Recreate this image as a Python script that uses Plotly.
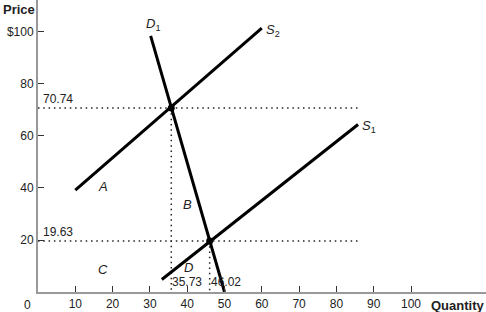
import plotly.graph_objects as go

# Data
s2_q = [10, 60]
s2_p = [39.2, 101.5]
s1_q = [33.2, 85.8]
s1_p = [4.8, 64.4]
d1_q = [30.2, 35.73, 46.02, 50.0]
d1_p = [98.5, 70.74, 19.63, 0.0]
eq_q = [35.73, 46.02]
eq_p = [70.74, 19.63]
x_ticks = [10, 20, 30, 40, 50, 60, 70, 80, 90, 100]
y_ticks = [20, 40, 60, 80, 100]
y_tick_text = ["20", "40", "60", "80", "$100"]
dotted_end = 86.3
region_labels = ["A", "B", "C", "D"]
region_q = [17.5, 40, 17.5, 40.3]
region_p = [40.5, 33.5, 8.5, 9.6]

FONT = "Liberation Sans, Arial, sans-serif"
fig = go.Figure()

DOT = dict(color="#222", width=1.5, dash="1.5px,3.8px")
# dotted guide lines
for p in eq_p:
    fig.add_trace(go.Scatter(x=[0, dotted_end], y=[p, p], mode="lines",
                             line=DOT, hoverinfo="skip", showlegend=False))
for q, p in zip(eq_q, eq_p):
    fig.add_trace(go.Scatter(x=[q, q], y=[p, 0], mode="lines",
                             line=DOT, hoverinfo="skip", showlegend=False))

for xs, ys in [(s2_q, s2_p), (s1_q, s1_p), (d1_q, d1_p)]:
    fig.add_trace(go.Scatter(x=xs, y=ys, mode="lines",
                             line=dict(color="black", width=3),
                             showlegend=False, hoverinfo="skip"))

fig.add_trace(go.Scatter(x=eq_q, y=eq_p, mode="markers",
                         marker=dict(color="black", size=7),
                         showlegend=False, hoverinfo="skip"))

ann = []
tf = dict(family=FONT, size=12, color="#222")
# value labels
ann.append(dict(x=0.8, y=eq_p[0], text=f"{eq_p[0]:.2f}", xanchor="left", yanchor="bottom",
                yshift=0, showarrow=False, font=tf))
ann.append(dict(x=0.8, y=eq_p[1], text=f"{eq_p[1]:.2f}", xanchor="left", yanchor="bottom",
                showarrow=False, font=tf))
for q in eq_q:
    ann.append(dict(x=q, y=0, text=f"{q:.2f}", xanchor="left", yanchor="bottom",
                    xshift=-1, yshift=1, showarrow=False, font=tf))
for t, q, p in zip(region_labels, region_q, region_p):
    ann.append(dict(x=q, y=p, text=f"<i>{t}</i>", showarrow=False,
                    font=dict(family=FONT, size=13, color="#222")))
ann.append(dict(x=d1_q[0], y=d1_p[0], text="<i>D</i><sub>1</sub>", showarrow=False,
                xanchor="center", yanchor="bottom", xshift=2, yshift=1,
                font=dict(family=FONT, size=13, color="#222")))
ann.append(dict(x=s2_q[1], y=s2_p[1], text="<i>S</i><sub>2</sub>", showarrow=False,
                xanchor="left", yanchor="middle", xshift=2, yshift=-2,
                font=dict(family=FONT, size=13, color="#222")))
ann.append(dict(x=s1_q[1], y=s1_p[1], text="<i>S</i><sub>1</sub>", showarrow=False,
                xanchor="left", yanchor="middle", xshift=2, yshift=-2,
                font=dict(family=FONT, size=13, color="#222")))
ann.append(dict(x=0, y=1, xref="paper", yref="paper", text="<b>Price</b>", showarrow=False,
                xanchor="left", yanchor="top", xshift=-37, yshift=0,
                font=dict(family=FONT, size=13, color="#222")))
ann.append(dict(x=1, y=0, xref="paper", yref="paper", text="<b>Quantity</b>", showarrow=False,
                xanchor="right", yanchor="top", yshift=-4,
                font=dict(family=FONT, size=13, color="#222")))
ann.append(dict(x=0, y=0, xref="paper", yref="paper", text="0", showarrow=False,
                xanchor="center", yanchor="top", xshift=-11, yshift=-4,
                font=tf))

fig.update_layout(
    width=486, height=312,
    margin=dict(l=38, r=0, t=0, b=20),
    paper_bgcolor="white", plot_bgcolor="white",
    annotations=ann,
    xaxis=dict(range=[0, 120.1], tickvals=x_ticks, ticks="inside", ticklen=6,
               tickcolor="#333", showgrid=False, zeroline=False, showline=True,
               linecolor="#999", linewidth=2, tickfont=tf, automargin=False,
               fixedrange=True),
    yaxis=dict(range=[0, 112.3], tickvals=y_ticks, ticktext=y_tick_text, ticks="inside",
               ticklen=6, tickcolor="#333", showgrid=False, zeroline=False,
               showline=True, linecolor="#999", linewidth=2, tickfont=tf,
               automargin=False, fixedrange=True),
)
fig.write_html("out.html")
